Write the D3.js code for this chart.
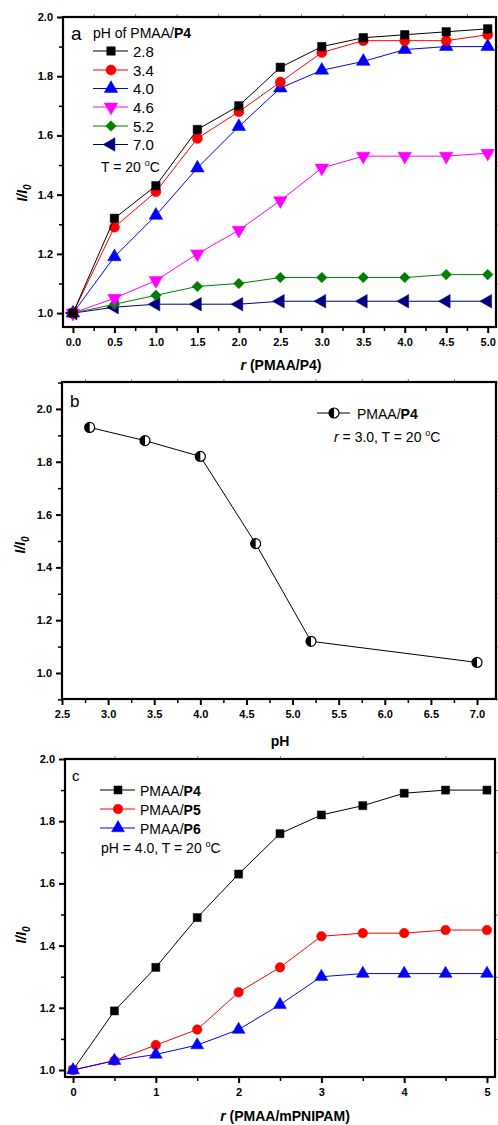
<!DOCTYPE html>
<html>
<head>
<meta charset="utf-8">
<script src="https://cdn.jsdelivr.net/npm/d3@7"></script>
<style>
  html, body { margin: 0; padding: 0; background: #fff; }
  svg { display: block; font-family: Arial, "Liberation Sans", sans-serif; }
</style>
</head>
<body>
<svg id="fig" width="498" height="1125"></svg>
<script>
// ---- Panel a: I/I0 vs r (PMAA/P4) at several pH ----
const rValues = [0, 0.5, 1, 1.5, 2, 2.5, 3, 3.5, 4, 4.5, 5];
const pHLabels = ["2.8", "3.4", "4.0", "4.6", "5.2", "7.0"];
const pH28 = [1.00, 1.32, 1.43, 1.62, 1.70, 1.83, 1.90, 1.93, 1.94, 1.95, 1.96];
const pH34 = [1.00, 1.29, 1.41, 1.59, 1.68, 1.78, 1.88, 1.92, 1.92, 1.92, 1.94];
const pH40 = [1.00, 1.19, 1.33, 1.49, 1.63, 1.76, 1.82, 1.85, 1.89, 1.90, 1.90];
const pH46 = [1.00, 1.05, 1.11, 1.20, 1.28, 1.38, 1.49, 1.53, 1.53, 1.53, 1.54];
const pH52 = [1.00, 1.03, 1.06, 1.09, 1.10, 1.12, 1.12, 1.12, 1.12, 1.13, 1.13];
const pH70 = [1.00, 1.02, 1.03, 1.03, 1.03, 1.04, 1.04, 1.04, 1.04, 1.04, 1.04];
const aXTicks = [0, 0.5, 1, 1.5, 2, 2.5, 3, 3.5, 4, 4.5, 5];
const aYTicks = [1.0, 1.2, 1.4, 1.6, 1.8, 2.0];

// ---- Panel b: I/I0 vs pH at r = 3.0 ----
const pHValues = [2.8, 3.4, 4.0, 4.6, 5.2, 7.0];
const ratioAtR3 = [1.93, 1.88, 1.82, 1.49, 1.12, 1.04];
const bXTicks = [2.5, 3.0, 3.5, 4.0, 4.5, 5.0, 5.5, 6.0, 6.5, 7.0];
const bYTicks = [1.0, 1.2, 1.4, 1.6, 1.8, 2.0];

// ---- Panel c: I/I0 vs r (PMAA/mPNIPAM) for P4, P5, P6 ----
const polymerNames = ["P4", "P5", "P6"];
const ratioP4 = [1.00, 1.19, 1.33, 1.49, 1.63, 1.76, 1.82, 1.85, 1.89, 1.90, 1.90];
const ratioP5 = [1.00, 1.03, 1.08, 1.13, 1.25, 1.33, 1.43, 1.44, 1.44, 1.45, 1.45];
const ratioP6 = [1.00, 1.03, 1.05, 1.08, 1.13, 1.21, 1.30, 1.31, 1.31, 1.31, 1.31];
const cXTicks = [0, 1, 2, 3, 4, 5];
const cYTicks = [1.0, 1.2, 1.4, 1.6, 1.8, 2.0];

const svg = d3.select("#fig");

// marker shapes
const markerDefs = {
  square:   { type: d3.symbolSquare,   size: 72, rot: 0 },
  circle:   { type: d3.symbolCircle,   size: 80, rot: 0 },
  triUp:    { type: d3.symbolTriangle, size: 80, rot: 0 },
  triDown:  { type: d3.symbolTriangle, size: 80, rot: 180 },
  diamond:  { type: d3.symbolSquare,   size: 56, rot: 45 },
  triLeft:  { type: d3.symbolTriangle, size: 80, rot: -90 }
};

function drawMarker(g, kind, x, y, color, scale = 1) {
  const m = markerDefs[kind];
  g.append("path")
    .attr("d", d3.symbol().type(m.type).size(m.size * scale)())
    .attr("transform", `translate(${x},${y}) rotate(${m.rot})`)
    .attr("fill", color)
    .attr("stroke", color)
    .attr("stroke-width", 0.5);
}

function halfCircle(g, x, y, r) {
  g.append("circle").attr("cx", x).attr("cy", y).attr("r", r)
    .attr("fill", "#fff").attr("stroke", "#000").attr("stroke-width", 1.2);
  g.append("path")
    .attr("d", `M${x},${y - r} A${r},${r} 0 0 0 ${x},${y + r} Z`)
    .attr("fill", "#000");
}

function makeRange(a, b, step) {
  const out = [];
  for (let v = a; v <= b + 1e-9; v += step) out.push(+v.toFixed(4));
  return out;
}

// frame + axes for one panel
function panel(cfg) {
  const x = d3.scaleLinear().domain(cfg.xDomain).range([cfg.left, cfg.right]);
  const y = d3.scaleLinear().domain(cfg.yDomain).range([cfg.bottom, cfg.top]);
  const g = svg.append("g");

  // minor ticks on all four sides
  const minorX = makeRange(cfg.xMinor[0], cfg.xMinor[1], cfg.xMinor[2]);
  const minorY = makeRange(cfg.yMinor[0], cfg.yMinor[1], cfg.yMinor[2]);

  g.append("g").attr("transform", `translate(0,${cfg.bottom})`)
    .call(d3.axisBottom(x).tickValues(minorX).tickSize(4).tickFormat(""))
    .call(s => s.select(".domain").remove())
    .selectAll("line").attr("stroke-width", 1.5);
  g.append("g").attr("transform", `translate(0,${cfg.bottom})`)
    .call(d3.axisBottom(x).tickValues(cfg.xTicks).tickSize(6).tickPadding(5)
      .tickFormat(cfg.xFormat))
    .call(s => s.select(".domain").remove())
    .call(s => s.selectAll("line").attr("stroke-width", 2))
    .call(s => s.selectAll("text").attr("font-size", 11).attr("font-weight", "bold")
      .attr("font-family", "Arial, 'Liberation Sans', sans-serif").attr("fill", "#000"));

  g.append("g").attr("transform", `translate(${cfg.left},0)`)
    .call(d3.axisLeft(y).tickValues(minorY).tickSize(4).tickFormat(""))
    .call(s => s.select(".domain").remove())
    .selectAll("line").attr("stroke-width", 1.5);
  g.append("g").attr("transform", `translate(${cfg.left},0)`)
    .call(d3.axisLeft(y).tickValues(cfg.yTicks).tickSize(6).tickPadding(4)
      .tickFormat(d3.format(".1f")))
    .call(s => s.select(".domain").remove())
    .call(s => s.selectAll("line").attr("stroke-width", 2))
    .call(s => s.selectAll("text").attr("font-size", 11).attr("font-weight", "bold")
      .attr("font-family", "Arial, 'Liberation Sans', sans-serif").attr("fill", "#000"));

  // mirrored light ticks on top and right
  g.append("g").attr("transform", `translate(0,${cfg.top})`)
    .call(d3.axisTop(x).tickValues(minorX).tickSize(3).tickFormat(""))
    .call(s => s.select(".domain").remove())
    .selectAll("line").attr("stroke", "#888").attr("stroke-width", 1);
  g.append("g").attr("transform", `translate(${cfg.right},0)`)
    .call(d3.axisRight(y).tickValues(minorY).tickSize(3).tickFormat(""))
    .call(s => s.select(".domain").remove())
    .selectAll("line").attr("stroke", "#888").attr("stroke-width", 1);

  // frame
  g.append("rect")
    .attr("x", cfg.left).attr("y", cfg.top)
    .attr("width", cfg.right - cfg.left).attr("height", cfg.bottom - cfg.top)
    .attr("fill", "none").attr("stroke", "#000").attr("stroke-width", 2.2);

  // y title: I/I0
  const yt = g.append("text")
    .attr("transform", `translate(${cfg.yTitleX},${cfg.yTitleY}) rotate(-90)`)
    .attr("text-anchor", "middle")
    .attr("font-size", 14).attr("font-weight", "bold").attr("font-style", "italic");
  yt.append("tspan").text("I/I");
  yt.append("tspan").attr("font-size", 10).attr("dy", 4).text("0");

  return { g, x, y };
}

function degC(textSel) {
  textSel.append("tspan").attr("font-size", 9).attr("dy", -6).text("o");
  textSel.append("tspan").attr("dy", 6).text("C");
}

// ======== Panel a ========
{
  const P = panel({
    left: 63, right: 496, top: 17, bottom: 327,
    xDomain: [-0.12, 5.1], yDomain: [0.953, 2.0],
    xTicks: aXTicks, xFormat: d3.format(".1f"),
    xMinor: [0.25, 5.0, 0.5], yMinor: [1.1, 2.0, 0.2],
    yTicks: aYTicks,
    yTitleX: 27, yTitleY: 193
  });
  const series = [
    { values: pH28, color: "#000000", marker: "square" },
    { values: pH34, color: "#ff0000", marker: "circle" },
    { values: pH40, color: "#0000ff", marker: "triUp" },
    { values: pH46, color: "#ff00ff", marker: "triDown" },
    { values: pH52, color: "#008000", marker: "diamond" },
    { values: pH70, color: "#000080", marker: "triLeft" }
  ];
  const line = d3.line().x((d, i) => P.x(rValues[i])).y(d => P.y(d));
  // draw bottom series first so the top curves stay on top
  series.slice().reverse().forEach(s => {
    P.g.append("path").datum(s.values).attr("d", line)
      .attr("fill", "none").attr("stroke", s.color).attr("stroke-width", 1);
    s.values.forEach((v, i) => drawMarker(P.g, s.marker, P.x(rValues[i]), P.y(v), s.color));
  });

  // x title
  const xt = P.g.append("text").attr("x", 281).attr("y", 370)
    .attr("text-anchor", "middle").attr("font-size", 14).attr("font-weight", "bold");
  xt.append("tspan").attr("font-style", "italic").text("r");
  xt.append("tspan").text(" (PMAA/P4)");

  // legend
  P.g.append("text").attr("x", 71).attr("y", 40).attr("font-size", 19).text("a");
  const head = P.g.append("text").attr("x", 93).attr("y", 38).attr("font-size", 14);
  head.append("tspan").text("pH of PMAA/");
  head.append("tspan").attr("font-weight", "bold").text("P4");
  const rowY = [51, 70, 88.5, 107, 126, 144.5];
  series.forEach((s, i) => {
    P.g.append("line").attr("x1", 93).attr("x2", 128).attr("y1", rowY[i]).attr("y2", rowY[i])
      .attr("stroke", s.color).attr("stroke-width", 1);
    drawMarker(P.g, s.marker, 111, rowY[i], s.color);
    P.g.append("text").attr("x", 133).attr("y", rowY[i] + 5.5)
      .attr("font-size", 15).text(pHLabels[i]);
  });
  const t = P.g.append("text").attr("x", 101).attr("y", 172).attr("font-size", 14);
  t.append("tspan").text("T = 20 ");
  degC(t);
}

// ======== Panel b ========
{
  const P = panel({
    left: 62, right: 496, top: 382, bottom: 699,
    xDomain: [2.5, 7.206], yDomain: [0.9015, 2.102],
    xTicks: bXTicks, xFormat: d3.format(".1f"),
    xMinor: [2.75, 7.2, 0.5], yMinor: [0.9, 2.1, 0.2],
    yTicks: bYTicks,
    yTitleX: 25, yTitleY: 545
  });
  const line = d3.line().x((d, i) => P.x(pHValues[i])).y(d => P.y(d));
  P.g.append("path").datum(ratioAtR3).attr("d", line)
    .attr("fill", "none").attr("stroke", "#000").attr("stroke-width", 1);
  ratioAtR3.forEach((v, i) => halfCircle(P.g, P.x(pHValues[i]), P.y(v), 5));

  P.g.append("text").attr("x", 280).attr("y", 746)
    .attr("text-anchor", "middle").attr("font-size", 14).attr("font-weight", "bold").text("pH");

  P.g.append("text").attr("x", 70).attr("y", 407).attr("font-size", 17).text("b");
  P.g.append("line").attr("x1", 317).attr("x2", 350).attr("y1", 413).attr("y2", 413)
    .attr("stroke", "#000").attr("stroke-width", 1);
  halfCircle(P.g, 334, 413, 5);
  const l1 = P.g.append("text").attr("x", 357).attr("y", 418.5).attr("font-size", 14);
  l1.append("tspan").text("PMAA/");
  l1.append("tspan").attr("font-weight", "bold").text("P4");
  const l2 = P.g.append("text").attr("x", 334).attr("y", 441.5).attr("font-size", 14);
  l2.append("tspan").attr("font-style", "italic").text("r");
  l2.append("tspan").text(" = 3.0, T = 20 ");
  degC(l2);
}

// ======== Panel c ========
{
  const P = panel({
    left: 65, right: 495, top: 759, bottom: 1077,
    xDomain: [-0.097, 5.097], yDomain: [0.9775, 2.0],
    xTicks: cXTicks, xFormat: d3.format("d"),
    xMinor: [0.5, 4.5, 1], yMinor: [1.1, 1.9, 0.2],
    yTicks: cYTicks,
    yTitleX: 26, yTitleY: 935
  });
  const series = [
    { values: ratioP4, color: "#000000", marker: "square" },
    { values: ratioP5, color: "#ff0000", marker: "circle" },
    { values: ratioP6, color: "#0000ff", marker: "triUp" }
  ];
  const line = d3.line().x((d, i) => P.x(rValues[i])).y(d => P.y(d));
  series.forEach(s => {
    P.g.append("path").datum(s.values).attr("d", line)
      .attr("fill", "none").attr("stroke", s.color).attr("stroke-width", 1);
    s.values.forEach((v, i) => drawMarker(P.g, s.marker, P.x(rValues[i]), P.y(v), s.color, 0.9));
  });

  const xt = P.g.append("text").attr("x", 285).attr("y", 1121)
    .attr("text-anchor", "middle").attr("font-size", 14).attr("font-weight", "bold");
  xt.append("tspan").attr("font-style", "italic").text("r");
  xt.append("tspan").text(" (PMAA/mPNIPAM)");

  P.g.append("text").attr("x", 72).attr("y", 781).attr("font-size", 15).text("c");
  const rowY = [790, 809, 828];
  series.forEach((s, i) => {
    P.g.append("line").attr("x1", 100).attr("x2", 135).attr("y1", rowY[i]).attr("y2", rowY[i])
      .attr("stroke", s.color).attr("stroke-width", 1);
    drawMarker(P.g, s.marker, 118, rowY[i], s.color, 0.9);
    const tx = P.g.append("text").attr("x", 140).attr("y", rowY[i] + 5.5).attr("font-size", 14);
    tx.append("tspan").text("PMAA/");
    tx.append("tspan").attr("font-weight", "bold").text(polymerNames[i]);
  });
  const t = P.g.append("text").attr("x", 101).attr("y", 853).attr("font-size", 14);
  t.append("tspan").text("pH = 4.0, T = 20 ");
  degC(t);
}
</script>
</body>
</html>
